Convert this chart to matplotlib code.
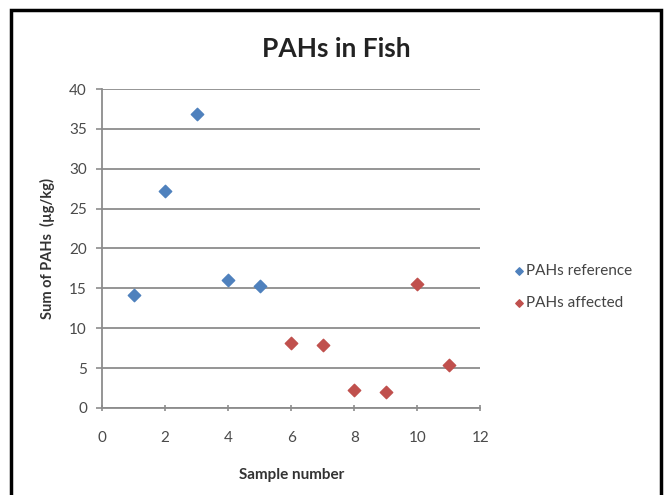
import matplotlib
matplotlib.use('Agg')
import matplotlib.pyplot as plt
from matplotlib.patches import Rectangle

# data
ref_x = [1, 2, 3, 4, 5]
ref_y = [14.2, 27.2, 36.9, 16.0, 15.3]
aff_x = [6, 7, 8, 9, 10, 11]
aff_y = [8.2, 7.9, 2.2, 2.0, 15.6, 5.4]

x_ticks = [0, 2, 4, 6, 8, 10, 12]
y_ticks = [0, 5, 10, 15, 20, 25, 30, 35, 40]

plt.rcParams['font.family'] = ['Lato', 'DejaVu Sans']

fig = plt.figure(figsize=(6.68, 4.95), dpi=100)
ax = fig.add_axes([0.153, 0.176, 0.566, 0.644])

ax.scatter(ref_x, ref_y, marker='D', s=40, color='#4F81BD', label='PAHs reference', zorder=3)
ax.scatter(aff_x, aff_y, marker='D', s=40, color='#C0504D', label='PAHs affected', zorder=3)

ax.set_xlim(0, 12)
ax.set_ylim(0, 40)
ax.set_xticks(x_ticks)
ax.set_yticks(y_ticks)
ax.yaxis.grid(True, color='#8c8c8c', linewidth=1.3)
ax.set_axisbelow(True)

for s in ['top', 'right']:
    ax.spines[s].set_visible(False)
for s in ['left', 'bottom']:
    ax.spines[s].set_color('#8c8c8c')
    ax.spines[s].set_linewidth(1.3)
ax.tick_params(axis='both', colors='#8c8c8c', labelcolor='#4a4a4a', labelsize=11,
               length=4, width=1.2)
ax.tick_params(axis='x', direction='inout', pad=15)
ax.tick_params(axis='y', pad=7)

# Excel centres the title over the whole chart, not the plot area
fig.text(336 / 668, 1 - 57 / 495, 'PAHs in Fish', fontsize=19, fontweight='bold',
         color='#222222', ha='center', va='baseline')

ax.set_xlabel('Sample number', fontsize=11, fontweight='bold', color='#333333')
ax.xaxis.set_label_coords(0.5, -0.19)
ax.set_ylabel('Sum of PAHs  (\u00b5g/kg)', fontsize=10.5, fontweight='bold', color='#333333')
ax.yaxis.set_label_coords(-0.125, 0.5)

ax.legend(loc='center left', bbox_to_anchor=(1.05, 0.38), frameon=False, fontsize=11,
          handletextpad=0.05, handlelength=0.8, labelspacing=1.2, markerscale=0.6,
          labelcolor='#444444')

# black frame round the chart, open at the bottom like the reference
frame = Rectangle((11 / 668, -0.05), 650 / 668, 1 - 10 / 495 + 0.05,
                  transform=fig.transFigure, fill=False, edgecolor='black',
                  linewidth=2.5, clip_on=False)
fig.patches.append(frame)

fig.savefig('out.png', dpi=100)
